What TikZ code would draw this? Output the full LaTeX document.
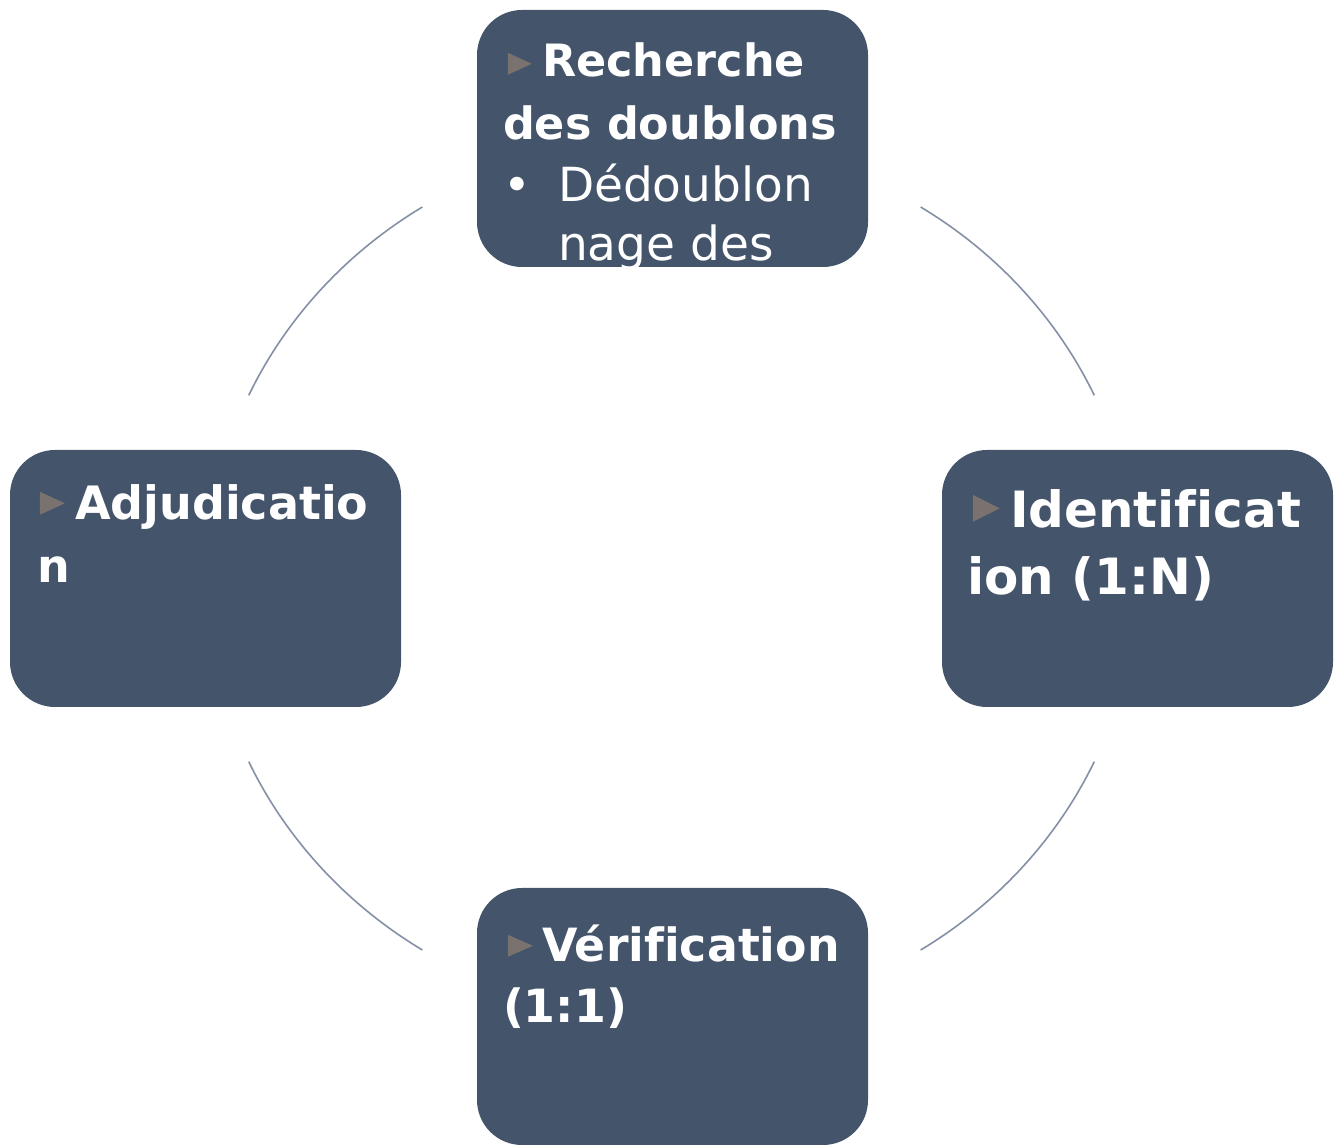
\documentclass[tikz,border=0pt]{standalone}
\usepackage{fontspec}
\setmainfont[Ligatures=NoCommon]{DejaVu Sans}
\usetikzlibrary{calc}
\definecolor{boxfill}{RGB}{68,84,106}
\definecolor{cycleline}{RGB}{132,144,166}
\definecolor{marker}{RGB}{122,114,110}
\tikzset{
  stagebox/.style={rounded corners=45, fill=boxfill, draw=none,
    minimum width=391, minimum height=257, inner sep=0},
  headtext/.style={anchor=base west, inner sep=0, text=white,
    font=\bfseries\fontsize{#1}{#1}\selectfont},
  subtext/.style={anchor=base west, inner sep=0, text=white,
    font=\fontsize{47}{47}\selectfont},
  link/.style={draw=cycleline, line width=1.6},
  pointer/.style={fill=marker}
}
\begin{document}
\begin{tikzpicture}[x=1pt,y=1pt]
\useasboundingbox (0,0) rectangle (1335,1145);

% the four stages
\node[stagebox] (top)    at (672.5,1006.5) {};
\node[stagebox] (right)  at (1137.5,566.5) {};
\node[stagebox] (bottom) at (672.5,128.5)  {};
\node[stagebox] (left)   at (205.5,566.5)  {};

% cycle arcs between the stages
\coordinate (c) at (671.5,566.5);
\coordinate (tr) at ($(c)+(57.6:465 and 440)$);
\coordinate (br) at ($(c)+(-24.6:465 and 440)$);
\coordinate (bl) at ($(c)+(-122.4:465 and 440)$);
\coordinate (tl) at ($(c)+(155.4:465 and 440)$);
\draw[link] (tr) arc[start angle=57.6, end angle=24.6, x radius=465, y radius=440];
\draw[link] (br) arc[start angle=-24.6, end angle=-57.6, x radius=465, y radius=440];
\draw[link] (bl) arc[start angle=-122.4, end angle=-155.4, x radius=465, y radius=440];
\draw[link] (tl) arc[start angle=155.4, end angle=122.4, x radius=465, y radius=440];

% top stage: text runs past the box and is cut at its edge
\begin{scope}
  \clip[rounded corners=45] (top.south west) rectangle (top.north east);
  \fill[pointer] ($(top.north west)+(31,-43)$) -- ++(24,-11) -- ++(-24,-11) -- cycle;
  \node[headtext=44.5] (t1) at ($(top.north west)+(65,-67)$) {Recherche};
  \node[headtext=44.5] (t2) at ($(top.north west)+(26,-130)$) {des doublons};
  \node[subtext] (tb) at ($(top.north west)+(26,-192)$) {•};
  \node[subtext] (t3) at ($(top.north west)+(81,-192)$) {Dédoublon};
  \node[subtext] (t4) at ($(top.north west)+(81,-251)$) {nage des};
\end{scope}

% right stage
\fill[pointer] ($(right.north west)+(31,-45)$) -- ++(27,-13.5) -- ++(-27,-13.5) -- cycle;
\node[headtext=50] (r1) at ($(right.north west)+(68,-78)$) {Identificat};
\node[headtext=50] (r2) at ($(right.north west)+(25,-145)$) {ion (1:N)};

% bottom stage
\fill[pointer] ($(bottom.north west)+(31,-47)$) -- ++(25,-11) -- ++(-25,-11) -- cycle;
\node[headtext=45.8] (b1) at ($(bottom.north west)+(65,-74)$) {Vérification};
\node[headtext=45.8] (b2) at ($(bottom.north west)+(26,-135)$) {(1:1)};

% left stage
\fill[pointer] ($(left.north west)+(30,-42)$) -- ++(25,-11.5) -- ++(-25,-11.5) -- cycle;
\node[headtext=46] (l1) at ($(left.north west)+(65,-70)$) {Adjudicatio};
\node[headtext=46] (l2) at ($(left.north west)+(27,-133)$) {n};
\end{tikzpicture}
\end{document}
